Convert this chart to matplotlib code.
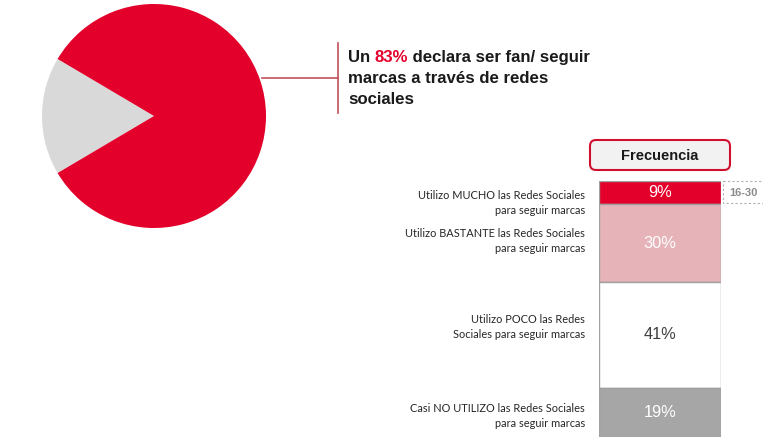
import matplotlib
matplotlib.use("Agg")
import matplotlib.pyplot as plt
from matplotlib.patches import FancyBboxPatch, Rectangle
import numpy as np

# ---- data ----
pie_labels = ["No sigue", "Fan / sigue marcas"]
pie_values = [17, 83]
freq_labels = [
    "Utilizo MUCHO las Redes Sociales\npara seguir marcas",
    "Utilizo BASTANTE las Redes Sociales\npara seguir marcas",
    "Utilizo POCO las Redes\nSociales para seguir marcas",
    "Casi NO UTILIZO las Redes Sociales\npara seguir marcas",
]
freq_values = [9, 30, 41, 19]
headline_pct = "83%"
age_tag = "16-30"

W, H = 763, 447
fig = plt.figure(figsize=(W / 100, H / 100), dpi=100)
fig.patch.set_facecolor("white")

def fr(x0, y0, x1, y1):
    # pixel box (top-left origin) -> figure fraction rect
    return [x0 / W, 1 - y1 / H, (x1 - x0) / W, (y1 - y0) / H]

# overlay axes in pixel coordinates
ov = fig.add_axes([0, 0, 1, 1])
ov.set_xlim(0, W)
ov.set_ylim(H, 0)
ov.axis("off")

# ---- pie ----
RED = "#e3002b"
pa = fig.add_axes(fr(42, 4, 266, 228))
half = pie_values[0] / 100 * 360 / 2
pa.pie(pie_values, colors=["#d9d9d9", RED], startangle=180 - half,
       counterclock=True, radius=1.0, wedgeprops=dict(linewidth=0))
pa.set_xlim(-1, 1)
pa.set_ylim(-1, 1)
pa.set_aspect("equal")
pa.axis("off")

# connector lines
LC = "#c0505a"
ov.plot([262, 338], [78, 78], color=LC, lw=1.2)
ov.plot([338, 338], [43, 113], color=LC, lw=1.2)

# headline text (multi-coloured first line)
hfont = dict(family=["Liberation Sans", "DejaVu Sans"], fontweight="bold", fontsize=12.1)
fig.canvas.draw()
r = fig.canvas.get_renderer()
x = 348
y = 62
parts = [("Un ", "#1a1a1a"), (headline_pct, RED), (" declara ser fan/ seguir", "#1a1a1a")]
for txt, col in parts:
    t = ov.text(x, y, txt, color=col, ha="left", va="baseline", **hfont)
    bb = t.get_window_extent(renderer=r)
    x += bb.width
ov.text(348, 83, "marcas a través de redes", color="#1a1a1a", ha="left", va="baseline", **hfont)
ov.text(348, 104, "sociales", color="#1a1a1a", ha="left", va="baseline", **hfont)

# Frecuencia header
box = FancyBboxPatch((590, 140), 140, 30, boxstyle="round,pad=0,rounding_size=6",
                     facecolor="#f2f2f2", edgecolor="#d0102f", lw=1.5)
ov.add_patch(box)
ov.text(660, 156, "Frecuencia", ha="center", va="center", color="#1a1a1a",
        family=["Liberation Sans"], fontweight="bold", fontsize=10.5)

# ---- stacked bar ----
ba = fig.add_axes(fr(599, 181, 721, 437))
colors = [RED, "#e6b4b8", "#ffffff", "#a6a6a6"]
txtcol = ["white", "white", "#404040", "white"]
bottoms = np.concatenate([[0], np.cumsum(freq_values)[:-1]])
total = sum(freq_values)
ba.bar([0] * len(freq_values), freq_values, bottom=bottoms, width=1.0,
       color=colors, edgecolor="#a0a0a0", linewidth=1.0)
for v, b, c in zip(freq_values, bottoms, txtcol):
    ba.text(0, b + v / 2, f"{v}%", ha="center", va="center", color=c,
            family=["Liberation Sans"], fontsize=11.8)
ba.set_xlim(-0.5, 0.5)
ba.set_ylim(total, 0)
ba.axis("off")

# category labels
lfont = dict(family=["Lato", "DejaVu Sans"], fontsize=7.9, color="#262626",
             ha="right", va="center", linespacing=1.4)
label_y = [203, 241, 327, 416]
for lab, ly in zip(freq_labels, label_y):
    ov.text(585, ly, lab, **lfont)

# age tag
ov.add_patch(Rectangle((723, 181), 45, 22, facecolor="white", edgecolor="#b0b0b0",
                       lw=0.8, linestyle=(0, (2, 2)), zorder=1))
ov.text(743, 192.5, age_tag, ha="center", va="center", color="#8c8c8c",
        family=["Liberation Sans"], fontweight="bold", fontsize=8, zorder=5)

fig.savefig("out.png", dpi=100, facecolor="white")
